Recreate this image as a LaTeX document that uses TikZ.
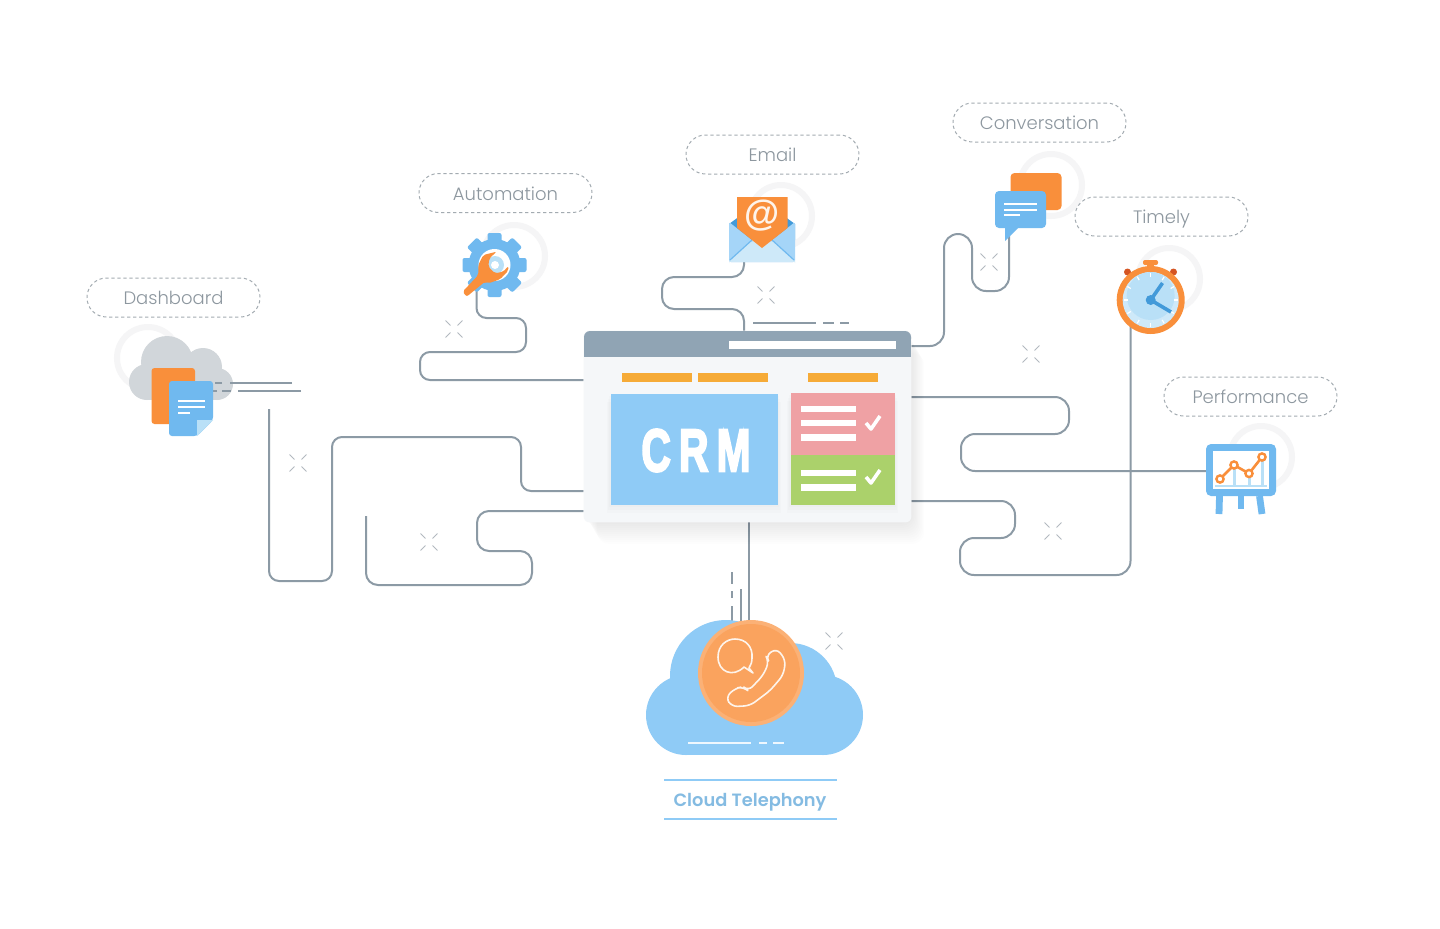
\documentclass[tikz,border=0pt]{standalone}
\usepackage{fontspec}
\setmainfont{Poppins Light}[BoldFont=Poppins SemiBold]
\newfontfamily\crmfont[LetterSpace=20,FakeBold=4]{Liberation Sans Bold}
\newfontfamily\markfont{Liberation Sans Bold}
\usetikzlibrary{positioning,calc}
\definecolor{wirecol}{HTML}{8C9AA5}
\definecolor{headcol}{HTML}{90A4B4}
\definecolor{bodycol}{HTML}{F5F7F9}
\definecolor{barcol}{HTML}{F6AB38}
\definecolor{panelcol}{HTML}{8FCBF6}
\definecolor{redcol}{HTML}{EFA1A4}
\definecolor{greencol}{HTML}{ABD16B}
\definecolor{iconblue}{HTML}{70B9EF}
\definecolor{iconorange}{HTML}{F98F3B}
\definecolor{paleblue}{HTML}{B9E0F7}
\definecolor{deepblue}{HTML}{429AD9}
\definecolor{ringcol}{HTML}{F5F5F6}
\definecolor{labelcol}{HTML}{8D979F}
\definecolor{pillcol}{HTML}{A3ABB1}
\definecolor{sparkcol}{HTML}{B2B9BF}
\definecolor{greycloud}{HTML}{D1D6DA}
\tikzset{
  wire/.style={draw=wirecol, line width=1pt},
  pill/.style={draw=pillcol, line width=.5pt, dash pattern=on 1.6pt off 1.4pt, rounded corners=9.7pt,
    minimum width=86.5pt, minimum height=19.5pt, inner sep=0pt, text height=8pt, text depth=1pt, text=labelcol, font=\fontsize{9}{12}\selectfont},
  ring/.style={draw=ringcol, line width=3pt},
  sparkle/.pic={
    \foreach \a in {45,135,225,315}
      \draw[sparkcol, line width=.5pt] (\a:5) -- (\a:12);
  }
}
\begin{document}
\begin{tikzpicture}[x=.5pt,y=-.5pt]
  \useasboundingbox (0,0) rectangle (1440,928);
  \fill[white] (0,0) rectangle (1440,928);

  \foreach \x/\y in {148/358,514/256,781/216,1051/185,1169/279,1261/457}
    \draw[ring] (\x,\y) circle (31);

  \fill[greycloud] (147,382) circle (18);
  \fill[greycloud] (167,362) circle (26);
  \fill[greycloud] (203,367) circle (19);
  \fill[greycloud] (217,384) circle (16);
  \fill[greycloud] (147,375) rectangle (217,400);

  \node[minimum width=163.5pt, minimum height=95.5pt, inner sep=0pt] (crmwindow) at (747.5,426.5) {};
  \coordinate (gearend) at (476.5,290);
  \coordinate (mailend) at (744,258);
  \coordinate (chatend) at (1009,236);
  \coordinate (clockend) at (1130.5,325);
  \coordinate (boardend) at (1210,471);
  \coordinate (phoneend) at (749,640);
  \coordinate (docend) at (269,409);
  \coordinate (lowend) at (366,516);

  \draw[wire, rounded corners=5pt] (gearend) -- (476.5,318) -- (526,318) -- (526,352) -- (420,352) -- (420,380) -- (crmwindow.west |- 0,380);
  \draw[wire, rounded corners=5pt] (docend) -- (269,581) -- (332,581) -- (332,437) -- (521,437) -- (521,491) -- (crmwindow.west |- 0,491);
  \draw[wire, rounded corners=6pt] (lowend) -- (366,585) -- (532,585) -- (532,551) -- (477,551) -- (477,511) -- (crmwindow.west |- 0,511);
  \draw[wire, rounded corners=6pt] (mailend) -- (744,277) -- (662,277) -- (662,309) -- (744,309) -- (744,331);
  \draw[wire, rounded corners=7pt] (crmwindow.east |- 0,346) -- (944,346) -- (944,234) -- (972,234) -- (972,291) -- (1009,291) -- (chatend);
  \draw[wire, rounded corners=7pt] (clockend) -- (1130.5,575) -- (960,575) -- (960,538) -- (1015,538) -- (1015,501) -- (crmwindow.east |- 0,501);
  \draw[wire, rounded corners=7pt] (boardend) -- (961,471) -- (961,434) -- (1069,434) -- (1069,397) -- (crmwindow.east |- 0,397);
  \draw[wire] (crmwindow.south -| phoneend) -- (phoneend);

  \draw[wire, dash pattern=on 31pt off 4pt on 4pt off 3pt on 5.5pt] (292,383) -- (215,383);
  \draw[wire, dash pattern=on 31.5pt off 3.5pt on 4.5pt off 2.5pt on 3pt] (301,391) -- (212,391);
  \draw[wire, dash pattern=on 31.5pt off 3.5pt on 5.5pt off 3pt on 5.5pt] (753,323) -- (849,323);
  \draw[wire, dash pattern=on 6pt off 3.5pt on 3.5pt off 4pt on 8pt] (732,572) -- (732,625);
  \draw[wire] (741,589) -- (741,625);

  \foreach \s in {22,20,...,2}
    \fill[black, fill opacity=.007, rounded corners=6pt] (584+\s*.6,331+\s) rectangle (911+\s*.6,522+\s);
  \fill[bodycol, rounded corners=3pt] (crmwindow.north west) rectangle (crmwindow.south east);
  \fill[headcol, rounded corners=3pt] (584,331) rectangle (911,345);
  \fill[headcol] (584,340) rectangle (911,357);
  \fill[white] (729,341) rectangle (896,349);
  \foreach \x in {622,698,808}
    \fill[barcol] (\x,373) rectangle +(70,9);
  \foreach \s in {8,5,2}
    \fill[black, fill opacity=.01] (610-\s*.4,394+\s) rectangle (778+\s*.4,505+\s);
  \foreach \s in {8,5,2}
    \fill[black, fill opacity=.01] (790-\s*.4,393+\s) rectangle (895+\s*.4,505+\s);
  \fill[panelcol] (610.5,394) rectangle (777.5,505);
  \fill[redcol] (790.5,393) rectangle (895,455);
  \fill[greencol] (790.5,455) rectangle (895,505);
  \foreach \y in {409,423,437.5,473,487.5}
    \draw[white, line width=3.3pt] (801,\y) -- (856,\y);
  \foreach \y in {423,477}
    \draw[white, line width=1.8pt, line join=round] (866,\y) -- (871,\y+6) -- (880,\y-7);
  \node[xscale=.68, text=white, font=\crmfont\fontsize{30}{30}\selectfont] (crmlabel) at (696,450.5) {CRM};

  \foreach \n/\x/\y/\t in {dashboard/173.5/297.5/Dashboard,automation/505.5/193/Automation,email/772.5/154.5/Email,conversation/1039.5/122.5/Conversation,timely/1161.5/216.5/Timely,performance/1250.5/396.5/Performance}
    \node[pill] (\n) at (\x,\y) {\t};

  \fill[iconorange, rounded corners=1.5pt] (151.5,368) rectangle (195,424);
  \fill[iconblue, rounded corners=1.5pt] (169,381) -- (213,381) -- (213,420) -- (197,436) -- (169,436) -- cycle;
  \fill[paleblue] (213,420) -- (197,436) -- (197,420) -- cycle;
  \foreach \y/\e in {401/205,407/205,412.5/190}
    \draw[white, line width=1pt] (178,\y) -- (\e,\y);

  \foreach \a in {0,45,...,315}
    \fill[iconblue, rounded corners=1pt, rotate around={\a:(494.5,265)}] (487.5,233) rectangle (501.5,250);
  \fill[iconblue] (494.5,265) circle (26);
  \fill[white] (494.5,265) circle (16);
  \fill[paleblue] (495,265) circle (9);
  \fill[white] (495,265) circle (4);
  \begin{scope}[shift={(80,160)},scale=1/3]
    \fill[iconorange, rounded corners=1pt] (1148,395) -- (1195,345) -- (1195,315) -- (1210,285) -- (1250,275) -- (1228,295) -- (1225,320) -- (1245,340) -- (1270,335) -- (1285,318) -- (1285,332) -- (1260,358) -- (1225,370) -- (1215,365) -- (1160,410) -- cycle;
  \end{scope}

  \fill[deepblue] (729,224) -- (762,200) -- (795,224) -- (795,240) -- (729,240) -- cycle;
  \fill[panelcol!80!white, rounded corners=1pt] (729,222) -- (762,248) -- (795,222) -- (795,262) -- (729,262) -- cycle;
  \fill[paleblue!70!white, rounded corners=1pt] (729,261) -- (752,240) -- (762,248) -- (772,240) -- (795,261) -- (795,262) -- (729,262) -- cycle;
  \draw[iconblue, line width=.6pt] (730,260) -- (752,240) (794,260) -- (772,240);
  \fill[iconorange] (737,197) -- (787.5,197) -- (787.5,228) -- (762,248) -- (737,228) -- cycle;
  \node[text=white!90!iconorange, font=\markfont\fontsize{18}{18}\selectfont] (atsign) at (762,216) {@};

  \fill[iconorange, rounded corners=2pt] (1010.5,173) rectangle (1061.5,210);
  \fill[iconblue, rounded corners=2pt] (995,191) rectangle (1046,228);
  \fill[iconblue] (1005,226) -- (1005,241) -- (1020,226) -- cycle;
  \foreach \y/\e in {203.5/1037,209.5/1037,215/1020}
    \draw[white, line width=1pt] (1004,\y) -- (\e,\y);

  \fill[iconorange!70!red!85!black] (1127.5,272) circle (3.5);
  \fill[iconorange!70!red!85!black] (1173.5,272) circle (3.5);
  \fill[iconorange, rounded corners=1pt] (1143,260) rectangle (1158,265);
  \fill[iconorange] (1147,264) rectangle (1154,270);
  \fill[iconorange] (1150.7,300) circle (34);
  \fill[paleblue!70!white] (1150.7,300) circle (28);
  \fill[paleblue] (1150.7,296) circle (24);
  \foreach \a in {0,30,...,330}
    \draw[white, line width=.6pt] ($(1150.7,300)+(\a:23)$) -- ($(1150.7,300)+(\a:27)$);
  \draw[deepblue, line width=1.8pt] (1150.7,300) -- (1162.5,283);
  \draw[deepblue, line width=1.8pt] (1150.7,300) -- (1171,312);
  \fill[deepblue] (1150.7,300) circle (5);

  \draw[iconblue, line width=3.4pt] (1219.5,496) -- (1219,514);
  \draw[iconblue, line width=3.4pt] (1241,496) -- (1241,509);
  \draw[iconblue, line width=3.4pt] (1259.5,496) -- (1262,514);
  \fill[iconblue, rounded corners=2.5pt] (1206,444) rectangle (1276,496);
  \fill[white] (1213,451) rectangle (1269,489);
  \foreach \x/\y in {1234/465,1249/473.5,1262/457}
    \draw[paleblue, line width=1.5pt] (\x,\y) -- (\x,486);
  \draw[paleblue, line width=1pt] (1215,486) -- (1267,486);
  \draw[iconorange, line width=1.3pt] (1220,479) -- (1234,465) -- (1249,473.5) -- (1262,457);
  \foreach \x/\y in {1220/479,1234/465,1249/473.5,1262/457}
    \draw[iconorange, line width=1.2pt, fill=white] (\x,\y) circle (3.6);

  \fill[panelcol] (686,715) circle (40);
  \fill[panelcol] (726,676) circle (56);
  \fill[panelcol] (790,690) circle (47);
  \fill[panelcol] (823,715) circle (40);
  \fill[panelcol] (686,700) rectangle (823,755);
  \fill[iconorange!70!white] (751,673) circle (53);
  \fill[iconorange!82!white] (751,673) circle (49);
  \draw[white!90!iconorange, line width=.8pt, line join=round] (744,667) .. controls (733,678) and (718,672) .. (718,657) .. controls (718,645) and (727,639) .. (735,639) .. controls (746,639) and (753,647) .. (752,658) .. controls (752,662) and (751,665) .. (749,668) -- (753,673) -- cycle;
  \begin{scope}[shift={(620,560)},scale=1/3]
    \draw[white!90!iconorange, line width=.8pt, line join=round, rounded corners=3pt] (470,265) -- (497,300) -- (490,345) -- (450,392) -- (390,437) -- (335,440) -- (317,412) -- (345,385) -- (370,380) -- (385,393) -- (430,345) -- (447,305) -- (437,287) -- cycle;
  \end{scope}
  \draw[white!85!panelcol, line width=1pt, dash pattern=on 31.5pt off 4pt on 4pt off 3pt on 5.5pt] (688,743) -- (784,743);

  \foreach \y in {780,819}
    \draw[panelcol, line width=.7pt] (664,\y) -- (837,\y);
  \node[text=panelcol!92!black, font=\fontsize{8.9}{11}\selectfont\bfseries] (telephony) at (750,802) {Cloud Telephony};

  \foreach \x/\y in {454/329,298/463,429/542,766/295,989/262,1031/354,1053/531,834/641}
    \pic at (\x,\y) {sparkle};
\end{tikzpicture}
\end{document}
